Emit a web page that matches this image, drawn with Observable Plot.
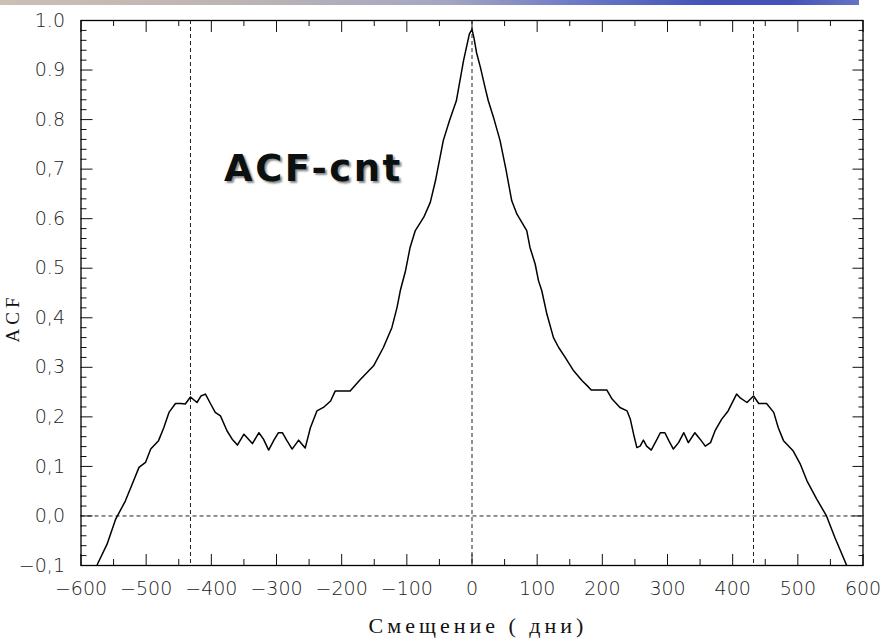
<!DOCTYPE html>
<html>
<head>
<meta charset="utf-8">
<script src="https://cdn.jsdelivr.net/npm/d3@7"></script>
<script src="https://cdn.jsdelivr.net/npm/@observablehq/plot@0.6"></script>
<style>
  html, body { margin: 0; padding: 0; background: #fff; }
  #wrap { position: relative; width: 887px; height: 640px; overflow: hidden; }
  #bar { position: absolute; left: 0; top: 0; width: 859px; height: 5px;
    background: linear-gradient(to right, #cbc0b4 0%, #bcb4b4 28%, #a4a6c2 52%, #6a78c6 68%, #4553b9 82%, #4552b9 92%, #6574c3 100%); }
  #title { position: absolute; left: 224px; top: 150px; font-family: "DejaVu Sans", Verdana, sans-serif;
    font-weight: bold; font-size: 37px; line-height: 37px; letter-spacing: 2.5px; color: #0b1010;
    text-shadow: 2px 2px 2px #8a8a8a; white-space: nowrap; }
  #ylab { position: absolute; left: 13px; top: 318px; transform: translate(-50%, -50%) rotate(-90deg);
    font-family: "Liberation Serif", "DejaVu Serif", serif; font-size: 19px; letter-spacing: 4px; color: #111; white-space: nowrap; }
  #xlab { position: absolute; left: 478px; top: 626px; transform: translate(-50%, -50%);
    font-family: "Liberation Serif", "DejaVu Serif", serif; font-size: 22px; letter-spacing: 4px; color: #111; white-space: nowrap; }
</style>
</head>
<body>
<div id="wrap">
  <div id="chart"></div>
  <div id="bar"></div>
  <div id="title">ACF-cnt</div>
  <div id="ylab">ACF</div>
  <div id="xlab">Смещение ( дни)</div>
</div>
<script>
// Lag (days) and autocorrelation values
const lags = [
  -575, -560, -547, -532, -519, -511, -501, -493, -481, -473, -465, -455, -447, -440,
  -432, -422, -416, -409, -401, -394, -386, -376, -368, -360, -350, -337, -327, -320,
  -312, -304, -297, -291, -284, -276, -266, -256, -248, -238, -228, -217, -210, -187,
  -171, -151, -136, -123, -115, -110, -102, -95, -87, -74, -64, -56, -44, -34, -24,
  -13, -4, 0,
  3, 7, 13, 20, 25, 34, 43, 52, 61, 69, 84, 89, 97, 102, 107, 115, 125, 133, 143,
  156, 169, 179, 183, 207, 215, 227, 238, 243, 248, 253, 258, 263, 268, 275, 284,
  289, 296, 302, 309, 317, 325, 332, 342, 350, 358, 366, 373, 383, 393, 406, 411,
  422, 432, 440, 452, 463, 470, 478, 493, 504, 514, 529, 544, 557, 575
];
const acf = [
  -0.098, -0.057, -0.007, 0.030, 0.072, 0.098, 0.108, 0.135, 0.152, 0.178, 0.209, 0.227, 0.227, 0.226,
  0.240, 0.229, 0.242, 0.246, 0.226, 0.209, 0.202, 0.172, 0.155, 0.143, 0.165, 0.146, 0.168, 0.155,
  0.133, 0.153, 0.168, 0.168, 0.152, 0.135, 0.153, 0.137, 0.178, 0.212, 0.219, 0.232, 0.252, 0.252,
  0.276, 0.303, 0.340, 0.380, 0.421, 0.455, 0.495, 0.542, 0.576, 0.603, 0.633, 0.677, 0.758, 0.800, 0.838,
  0.919, 0.973, 0.982,
  0.965, 0.935, 0.905, 0.865, 0.838, 0.800, 0.758, 0.700, 0.636, 0.609, 0.576, 0.542, 0.508, 0.475, 0.455, 0.407, 0.360, 0.340, 0.320,
  0.293, 0.273, 0.260, 0.254, 0.254, 0.236, 0.219, 0.212, 0.195, 0.165, 0.138, 0.141, 0.153, 0.141, 0.133, 0.155,
  0.168, 0.168, 0.152, 0.135, 0.148, 0.168, 0.148, 0.168, 0.155, 0.141, 0.148, 0.172, 0.195, 0.212, 0.246, 0.239,
  0.229, 0.242, 0.227, 0.227, 0.209, 0.178, 0.152, 0.131, 0.104, 0.071, 0.034, 0.000, -0.044, -0.100
];
// Reference lines
const vLines = [-432, 0, 432];
const hLines = [0];
// Ticks and tick labels
const xTicks = [-600, -500, -400, -300, -200, -100, 0, 100, 200, 300, 400, 500, 600];
const xTickLabels = ["−600", "−500", "−400", "−300", "−200", "−100", "0", "100", "200", "300", "400", "500", "600"];
const xMinor = [-550, -450, -350, -250, -150, -50, 50, 150, 250, 350, 450, 550];
const yTicks = [-0.1, 0, 0.1, 0.2, 0.3, 0.4, 0.5, 0.6, 0.7, 0.8, 0.9, 1.0];
const yTickLabels = ["−0,1", "0,0", "0,1", "0,2", "0,3", "0,4", "0.5", "0.6", "0,7", "0.8", "0.9", "1.0"];
const yMinor = [-0.08, -0.06, -0.04, -0.02, 0.02, 0.04, 0.06, 0.08, 0.12, 0.14, 0.16, 0.18, 0.22, 0.24, 0.26, 0.28,
  0.32, 0.34, 0.36, 0.38, 0.42, 0.44, 0.46, 0.48, 0.52, 0.54, 0.56, 0.58, 0.62, 0.64, 0.66, 0.68,
  0.72, 0.74, 0.76, 0.78, 0.82, 0.84, 0.86, 0.88, 0.92, 0.94, 0.96, 0.98];

const data = lags.map((l, i) => ({lag: l, acf: acf[i]}));

const chart = Plot.plot({
  width: 887,
  height: 640,
  marginLeft: 80.5,
  marginRight: 24.5,
  marginTop: 20,
  marginBottom: 75,
  x: {domain: [-600, 600]},
  y: {domain: [-0.1, 1.0]},
  style: {background: "#fff", color: "#222", fontFamily: "'DejaVu Sans', sans-serif", fontSize: "19px", fontWeight: "300"},
  marks: [
    Plot.ruleX(vLines, {stroke: "#222", strokeWidth: 1, strokeDasharray: "4,3"}),
    Plot.ruleY(hLines, {stroke: "#222", strokeWidth: 1, strokeDasharray: "4,3"}),
    Plot.line(data, {x: "lag", y: "acf", stroke: "#000", strokeWidth: 1.5, clip: true}),
    // inward ticks on all four sides
    Plot.axisX({anchor: "bottom", ticks: xTicks, tickSize: -11, text: null, label: null, stroke: "#111"}),
    Plot.axisX({anchor: "bottom", ticks: xMinor, tickSize: -6, text: null, label: null, stroke: "#111"}),
    Plot.axisX({anchor: "top", ticks: xTicks, tickSize: -11, text: null, label: null, stroke: "#111"}),
    Plot.axisX({anchor: "top", ticks: xMinor, tickSize: -5, text: null, label: null, stroke: "#111"}),
    Plot.axisY({anchor: "left", ticks: yTicks, tickSize: -12, text: null, label: null, stroke: "#111"}),
    Plot.axisY({anchor: "left", ticks: yMinor, tickSize: -6, text: null, label: null, stroke: "#111"}),
    Plot.axisY({anchor: "right", ticks: yTicks, tickSize: -11, text: null, label: null, stroke: "#111"}),
    Plot.axisY({anchor: "right", ticks: yMinor, tickSize: -5, text: null, label: null, stroke: "#111"}),
    // tick labels
    Plot.axisX({anchor: "bottom", ticks: xTicks, tickSize: 0, tickPadding: 16, label: null,
      tickFormat: (d) => xTickLabels[xTicks.indexOf(d)], fill: "#222", fontSize: 19}),
    Plot.axisY({anchor: "left", ticks: yTicks, tickSize: 0, tickPadding: 16, label: null,
      tickFormat: (d) => yTickLabels[yTicks.indexOf(d)], fill: "#222", fontSize: 19}),
    Plot.frame({stroke: "#000", strokeWidth: 1.3})
  ]
});
document.getElementById("chart").appendChild(chart);
</script>
</body>
</html>
